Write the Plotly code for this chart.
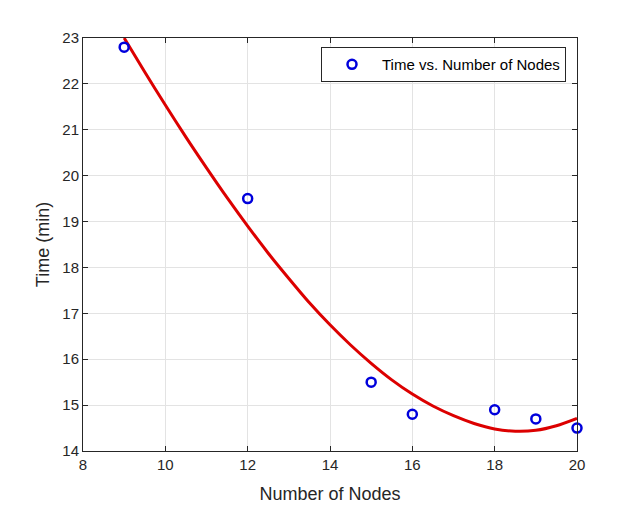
import plotly.graph_objects as go

# Measured data points
nodes = [9, 12, 15, 16, 18, 19, 20]
time_min = [22.8, 19.5, 15.5, 14.8, 14.9, 14.7, 14.5]

# Fitted curve
fit_x = [9.0, 9.5, 10.0, 10.5, 11.0, 11.5, 12.0, 12.5, 13.0, 13.5, 14.0, 14.5,
         15.0, 15.5, 16.0, 16.5, 17.0, 17.5, 18.0, 18.5, 19.0, 19.5, 20.0]
fit_y = [23.0, 22.26, 21.54, 20.84, 20.17, 19.52, 18.9, 18.31, 17.76, 17.23, 16.75, 16.31,
         15.91, 15.55, 15.24, 14.98, 14.77, 14.6, 14.48, 14.43, 14.45, 14.55, 14.71]

x_ticks = [8, 10, 12, 14, 16, 18, 20]
y_ticks = [14, 15, 16, 17, 18, 19, 20, 21, 22, 23]

FONT = "Liberation Sans, Arial, sans-serif"
AX = "#262626"
GRID = "#e3e3e3"

fig = go.Figure()
fig.add_trace(go.Scatter(
    x=fit_x, y=fit_y, mode="lines", showlegend=False,
    line=dict(color="rgb(220,0,0)", width=3, shape="spline", smoothing=0.8),
    cliponaxis=True,
))
fig.add_trace(go.Scatter(
    x=nodes, y=time_min, mode="markers", name="Time vs. Number of Nodes",
    marker=dict(symbol="circle-open", size=9, color="rgb(0,0,220)",
                line=dict(width=2.5, color="rgb(0,0,220)")),
    cliponaxis=False,
))

axis_common = dict(
    showline=True, linecolor=AX, linewidth=1, mirror="ticks",
    ticks="inside", ticklen=5, tickcolor=AX, tickwidth=1,
    showgrid=True, gridcolor=GRID, gridwidth=1, zeroline=False,
    tickfont=dict(family=FONT, size=15, color=AX),
)

fig.update_xaxes(range=[8, 20], tickvals=x_ticks, ticktext=[str(v) for v in x_ticks],
                 title=dict(text="Number of Nodes", font=dict(family=FONT, size=18, color=AX), standoff=15),
                 **axis_common)
fig.update_yaxes(range=[14, 23], tickvals=y_ticks, ticktext=[str(v) for v in y_ticks],
                 title=dict(text="Time (min)", font=dict(family=FONT, size=18, color=AX), standoff=8),
                 **axis_common)

# page body adds an 8px offset; plot area targets x 83..577, y 38..451
fig.update_layout(
    width=639, height=508,
    margin=dict(l=75, r=70, t=30, b=65),
    paper_bgcolor="white", plot_bgcolor="white",
    font=dict(family=FONT, color=AX),
    legend=dict(
        x=(321 - 83) / 494, y=0.978, xanchor="left", yanchor="top",
        bgcolor="white", bordercolor="#262626", borderwidth=1,
        itemwidth=50,
        font=dict(family=FONT, size=15, color="#000000"),
    ),
)

fig.write_html("out.html")
